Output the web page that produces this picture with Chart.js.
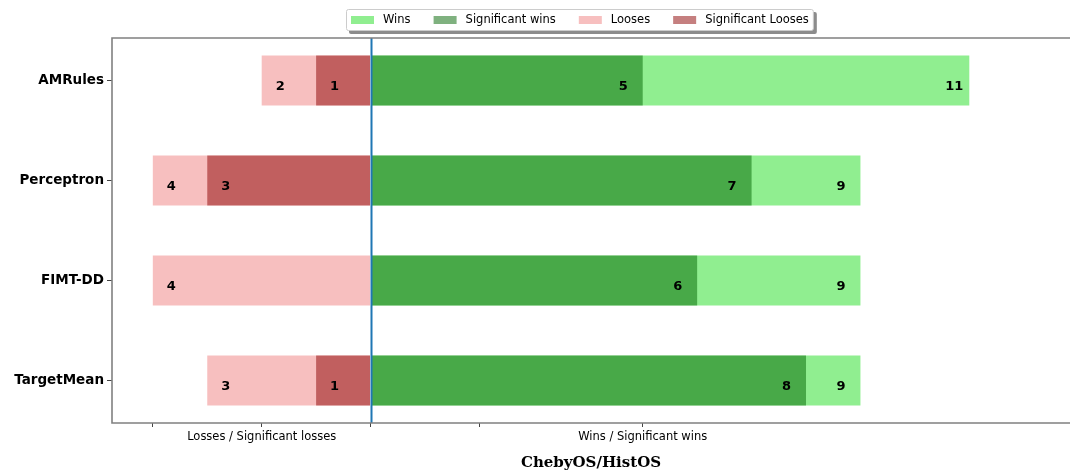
<!DOCTYPE html>
<html>
<head>
<meta charset="utf-8">
<script src="https://cdn.jsdelivr.net/npm/chart.js@4.4.1/dist/chart.umd.min.js"></script>
<style>
  body { margin: 0; background: #fff; }
</style>
</head>
<body>
<canvas id="chart" width="1070" height="476"></canvas>
<script>
// Win / loss counts per regressor
const models = ['AMRules', 'Perceptron', 'FIMT-DD', 'TargetMean'];
const wins = [11, 9, 9, 9];
const sigWins = [5, 7, 6, 8];
const looses = [2, 4, 4, 3];
const sigLooses = [1, 3, 0, 1];

// x axis ticks, only two of them carry a label
const xTickValues = [-4, -2, 0, 2, 5];
const xTickLabels = ['', 'Losses / Significant losses', '', '', 'Wins / Significant wins'];

const SANS = '"DejaVu Sans", sans-serif';

// one point per row: value on x, row index on y
function rows(values, sign) {
	return values.map((v, i) => ({ x: sign * v, y: i }));
}

const extras = {
	id: 'extras',
	beforeDraw(chart) {
		const ctx = chart.ctx;
		ctx.save();
		ctx.fillStyle = '#fff';
		ctx.fillRect(0, 0, chart.width, chart.height);
		ctx.restore();
	},
	afterDatasetsDraw(chart) {
		const { ctx, chartArea: a, scales: { x } } = chart;
		ctx.save();

		// Counts written inside the bars
		ctx.font = 'bold 13px ' + SANS;
		ctx.fillStyle = '#000';
		ctx.textAlign = 'left';
		ctx.textBaseline = 'middle';
		chart.data.datasets.forEach((ds, d) => {
			const meta = chart.getDatasetMeta(d);
			meta.data.forEach((bar, i) => {
				const v = ds.data[i].x;
				if (v === 0) return;
				const tx = v > 0 ? bar.x - 24 : bar.x + 14;
				ctx.fillText(String(Math.abs(v)), tx, bar.y + 6);
			});
		});

		// Zero line between losses and wins
		const x0 = Math.round(x.getPixelForValue(0)) + 0.5;
		ctx.strokeStyle = '#1f77b4';
		ctx.lineWidth = 2;
		ctx.beginPath();
		ctx.moveTo(x0, a.top);
		ctx.lineTo(x0, a.bottom);
		ctx.stroke();
		ctx.restore();
	},
	afterDraw(chart) {
		const { ctx, chartArea: a } = chart;
		ctx.save();

		// Axes frame (left, top, bottom)
		ctx.strokeStyle = '#808080';
		ctx.lineWidth = 1.6;
		ctx.beginPath();
		ctx.moveTo(chart.width, a.top);
		ctx.lineTo(a.left, a.top);
		ctx.lineTo(a.left, a.bottom);
		ctx.lineTo(chart.width, a.bottom);
		ctx.stroke();

		// Legend box with drop shadow
		ctx.font = '11.5px ' + SANS;
		const sw = 23, sh = 8, gapText = 9, gapItem = 23, padX = 5;
		const items = chart.data.datasets.map(ds => ({ label: ds.label, color: ds.backgroundColor }));
		const widths = items.map(it => sw + gapText + ctx.measureText(it.label).width);
		const total = widths.reduce((s, w) => s + w, 0) + gapItem * (items.length - 1) + padX * 2;
		const left = Math.round(580 - total / 2), top = 9, h = 22;

		ctx.fillStyle = 'rgba(0,0,0,0.45)';
		ctx.beginPath();
		ctx.roundRect(left + 3, top + 3, total, h, 2);
		ctx.fill();
		ctx.fillStyle = '#fff';
		ctx.strokeStyle = '#cccccc';
		ctx.lineWidth = 1;
		ctx.beginPath();
		ctx.roundRect(left + 0.5, top + 0.5, total - 1, h - 1, 2);
		ctx.fill();
		ctx.stroke();

		let cx = left + padX;
		const cy = top + h / 2;
		ctx.textAlign = 'left';
		ctx.textBaseline = 'middle';
		items.forEach((it, i) => {
			ctx.fillStyle = it.color;
			ctx.fillRect(cx, cy - sh / 2, sw, sh);
			ctx.fillStyle = '#000';
			ctx.fillText(it.label, cx + sw + gapText, cy + 0.5);
			cx += widths[i] + gapItem;
		});
		ctx.restore();
	}
};

new Chart(document.getElementById('chart'), {
	type: 'bar',
	data: {
		datasets: [
			{ label: 'Wins', data: rows(wins, 1), backgroundColor: '#90ee90', order: 1 },
			{ label: 'Significant wins', data: rows(sigWins, 1), backgroundColor: 'rgba(0,100,0,0.5)', order: 0 },
			{ label: 'Looses', data: rows(looses, -1), backgroundColor: 'rgba(240,128,128,0.5)', order: 1 },
			{ label: 'Significant Looses', data: rows(sigLooses, -1), backgroundColor: 'rgba(139,0,0,0.5)', order: 0 }
		]
	},
	options: {
		indexAxis: 'y',
		responsive: false,
		animation: false,
		devicePixelRatio: 1,
		grouped: false,
		barPercentage: 0.5,
		categoryPercentage: 1,
		layout: { padding: { top: 38, left: 0, right: 0, bottom: 0 } },
		plugins: {
			legend: { display: false },
			tooltip: { enabled: false }
		},
		scales: {
			x: {
				type: 'linear',
				min: -4.75,
				max: 12.85,
				afterBuildTicks: (scale) => {
					scale.ticks = xTickValues.map(v => ({ value: v }));
				},
				afterFit: (scale) => { scale.height = 53; },
				ticks: {
					autoSkip: false,
					maxRotation: 0,
					padding: 3,
					color: '#000',
					font: { family: SANS, size: 11.5 },
					callback: (value, index) => xTickLabels[index]
				},
				grid: { drawOnChartArea: false, tickLength: 4, color: '#444' },
				border: { display: false },
				title: {
					display: true,
					text: 'ChebyOS/HistOS',
					color: '#000',
					font: { family: '"DejaVu Serif", serif', weight: 'bold', size: 15 },
					padding: { top: 4, bottom: 4 }
				}
			},
			y: {
				type: 'linear',
				reverse: true,
				offset: false,
				min: -0.425,
				max: 3.425,
				afterBuildTicks: (scale) => {
					scale.ticks = models.map((m, i) => ({ value: i }));
				},
				afterFit: (scale) => { scale.width = 112; },
				ticks: {
					autoSkip: false,
					padding: 3,
					color: '#000',
					font: { family: SANS, size: 13.5, weight: 'bold' },
					callback: (value) => models[value]
				},
				grid: { offset: false, drawOnChartArea: false, tickLength: 5, color: '#444' },
				border: { display: false }
			}
		}
	},
	plugins: [extras]
});
</script>
</body>
</html>
